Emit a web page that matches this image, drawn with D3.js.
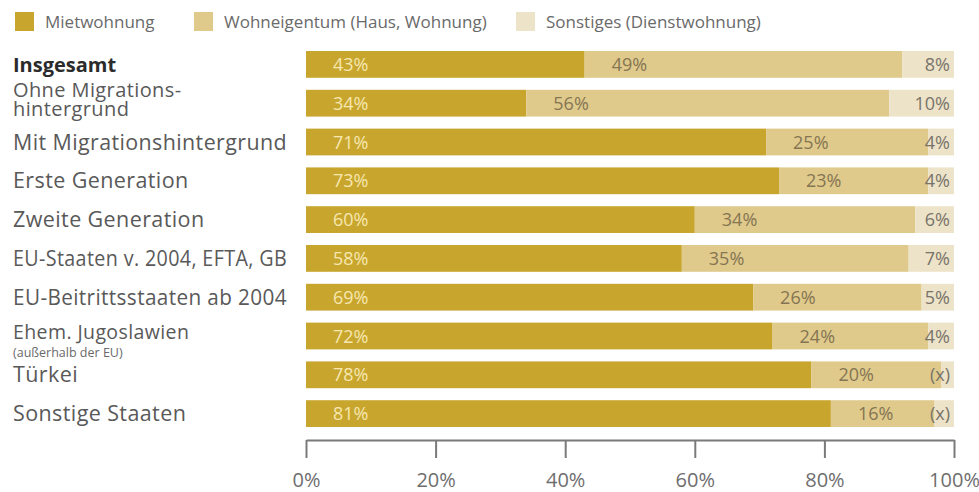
<!DOCTYPE html>
<html lang="de">
<head>
<meta charset="utf-8">
<script src="https://cdn.jsdelivr.net/npm/d3@7"></script>
<style>
  html, body { margin: 0; padding: 0; background: #ffffff; }
  svg { display: block; font-family: "Open Sans", "Noto Sans", sans-serif; }
</style>
</head>
<body>
<svg id="chart" width="979" height="492"></svg>
<script>
// Wohnsituation nach Migrationshintergrund (Anteile in %)
const categories = [
  "Insgesamt",
  "Ohne Migrations-\nhintergrund",
  "Mit Migrationshintergrund",
  "Erste Generation",
  "Zweite Generation",
  "EU-Staaten v. 2004, EFTA, GB",
  "EU-Beitrittsstaaten ab 2004",
  "Ehem. Jugoslawien",
  "Türkei",
  "Sonstige Staaten"
];
const categoryNotes = ["", "", "", "", "", "", "", "(außerhalb der EU)", "", ""];

const seriesNames = ["Mietwohnung", "Wohneigentum (Haus, Wohnung)", "Sonstiges (Dienstwohnung)"];
const mietwohnung   = [43, 34, 71, 73, 60, 58, 69, 72, 78, 81];
const wohneigentum  = [49, 56, 25, 23, 34, 35, 26, 24, 20, 16];
const sonstiges     = [8, 10, 4, 4, 6, 7, 5, 4, 2, 3];
const sonstigesLabels = ["8%", "10%", "4%", "4%", "6%", "7%", "5%", "4%", "(x)", "(x)"];

const tickValues = [0, 20, 40, 60, 80, 100];
const tickLabels = ["0%", "20%", "40%", "60%", "80%", "100%"];

const colors = ["#c8a62e", "#dfca8c", "#ede3c9"];
const labelColors = ["#f6e7ae", "#857552", "#79746a"];

const svg = d3.select("#chart");

const x = d3.scaleLinear().domain([0, 100]).range([306, 954]);
const y = d3.scaleBand()
  .domain(categories)
  .range([45, 433])
  .paddingInner(0.31)
  .paddingOuter(0.155);

// stacked rows
const rows = categories.map((c, i) => ({
  cat: c, values: [mietwohnung[i], wohneigentum[i], sonstiges[i]],
  labels: [mietwohnung[i] + "%", wohneigentum[i] + "%", sonstigesLabels[i]]
}));
const stack = d3.stack().keys([0, 1, 2]).value((d, k) => d.values[k]);
const layers = stack(rows);

const g = svg.append("g");
layers.forEach((layer, k) => {
  g.selectAll(null).data(layer).enter().append("rect")
    .attr("x", d => x(d[0]))
    .attr("y", d => y(d.data.cat))
    .attr("width", d => x(d[1]) - x(d[0]))
    .attr("height", y.bandwidth())
    .attr("fill", colors[k]);
});

// value labels: first two left aligned inside segment, third right aligned at bar end
layers.forEach((layer, k) => {
  g.selectAll(null).data(layer).enter().append("text")
    .attr("x", d => k < 2 ? x(d[0]) + 27 : x(100) - 4)
    .attr("y", d => y(d.data.cat) + y.bandwidth() / 2 + 6.5)
    .attr("text-anchor", k < 2 ? "start" : "end")
    .attr("font-size", 18)
    .attr("fill", labelColors[k])
    .text(d => d.data.labels[k]);
});

// category labels, squeezed when wider than the gutter left of the bars
const maxLabelWidth = 274;
categories.forEach((c, i) => {
  const lines = c.split("\n");
  const cy = y(c) + y.bandwidth() / 2;
  const t = svg.append("text")
    .attr("x", 13)
    .attr("font-size", i === 0 ? 20 : 21.5)
    .attr("letter-spacing", i === 0 ? 0 : 0.4)
    .attr("fill", i === 0 ? "#2b2b2b" : "#595959")
    .attr("font-weight", i === 0 ? 700 : 400);
  if (lines.length > 1) {
    lines.forEach((ln, j) => t.append("tspan").attr("x", 13).attr("y", cy - 6.5 + j * 19.5)
      .attr("font-size", 20).text(ln));
  } else if (categoryNotes[i]) {
    t.attr("y", cy + 3).attr("font-size", 19.5).text(c);
    svg.append("text").attr("x", 13).attr("y", cy + 21)
      .attr("font-size", 12.5).attr("fill", "#6a6a6a").text(categoryNotes[i]);
  } else {
    t.attr("y", cy + 7.5).text(c);
    const w = t.node().getComputedTextLength();
    if (w > maxLabelWidth) {
      t.attr("textLength", maxLabelWidth).attr("lengthAdjust", "spacingAndGlyphs");
    }
  }
});

// x axis with downward ticks
const axis = svg.append("g").attr("transform", "translate(0,440)")
  .call(d3.axisBottom(x).tickValues(tickValues).tickFormat((d, i) => tickLabels[i])
    .tickSize(18).tickSizeOuter(0).tickPadding(15));
axis.select(".domain").attr("stroke", "#7a7a7a").attr("stroke-width", 2);
axis.selectAll(".tick line").attr("stroke", "#7a7a7a").attr("stroke-width", 2);
axis.selectAll(".tick text").attr("font-size", 20).attr("fill", "#6e6e6e")
  .attr("font-family", "\"Open Sans\", sans-serif");

// legend
const legendX = [15, 194, 516];
const legend = svg.append("g");
seriesNames.forEach((n, k) => {
  legend.append("rect").attr("x", legendX[k]).attr("y", 12).attr("width", 19).attr("height", 19)
    .attr("fill", colors[k]);
  legend.append("text").attr("x", legendX[k] + 30).attr("y", 27.5)
    .attr("font-size", 17).attr("fill", "#6a6a6a").text(n);
});
</script>
</body>
</html>
